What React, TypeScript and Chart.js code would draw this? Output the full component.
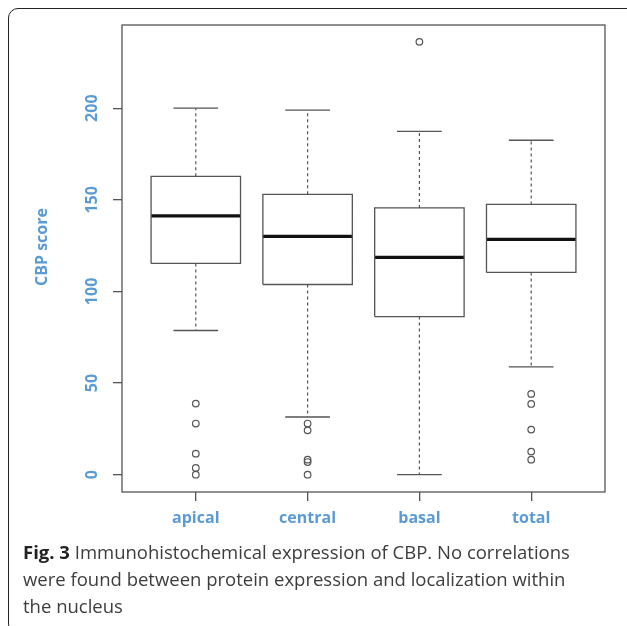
import React, { useEffect, useRef } from "react";
import { Chart, registerables } from "chart.js";

Chart.register(...registerables);

const categories = ["apical", "central", "basal", "total"];
const lowerWhiskers = [78.7, 31.5, 0, 58.8];
const q1s = [115.3, 103.8, 86.3, 110.4];
const medians = [141.2, 130.0, 118.6, 128.4];
const q3s = [162.8, 153.0, 145.6, 147.5];
const upperWhiskers = [200, 198.9, 187.4, 182.5];
const outliersApical = [38.8, 27.9, 11.5, 3.7, 0];
const outliersCentral = [27.9, 24.2, 8.2, 6.9, 0];
const outliersBasal = [236.2];
const outliersTotal = [44.1, 38.6, 24.6, 12.6, 8.2];
const yTicks = [0, 50, 100, 150, 200];
const yTitle = "CBP score";

const BLUE = "#5B9BD5";
const LINE = "#555555";
const BOX_HALF = 0.4;
const CAP_HALF = 0.2;

type P = { x: number; y: number | null };

function buildBoxes(): P[] {
  const pts: P[] = [];
  categories.forEach((_, i) => {
    const x = i + 1;
    pts.push(
      { x: x - BOX_HALF, y: q1s[i] },
      { x: x + BOX_HALF, y: q1s[i] },
      { x: x + BOX_HALF, y: q3s[i] },
      { x: x - BOX_HALF, y: q3s[i] },
      { x: x - BOX_HALF, y: q1s[i] },
      { x: x, y: null }
    );
  });
  return pts;
}

function buildMedians(): P[] {
  const pts: P[] = [];
  categories.forEach((_, i) => {
    const x = i + 1;
    pts.push({ x: x - BOX_HALF, y: medians[i] }, { x: x + BOX_HALF, y: medians[i] }, { x, y: null });
  });
  return pts;
}

function buildWhiskers(): P[] {
  const pts: P[] = [];
  categories.forEach((_, i) => {
    const x = i + 1;
    pts.push({ x, y: q3s[i] }, { x, y: upperWhiskers[i] }, { x, y: null });
    pts.push({ x, y: q1s[i] }, { x, y: lowerWhiskers[i] }, { x, y: null });
  });
  return pts;
}

function buildCaps(): P[] {
  const pts: P[] = [];
  categories.forEach((_, i) => {
    const x = i + 1;
    pts.push({ x: x - CAP_HALF, y: upperWhiskers[i] }, { x: x + CAP_HALF, y: upperWhiskers[i] }, { x, y: null });
    pts.push({ x: x - CAP_HALF, y: lowerWhiskers[i] }, { x: x + CAP_HALF, y: lowerWhiskers[i] }, { x, y: null });
  });
  return pts;
}

function buildOutliers(): P[] {
  const groups = [outliersApical, outliersCentral, outliersBasal, outliersTotal];
  const pts: P[] = [];
  groups.forEach((g, i) => g.forEach((v) => pts.push({ x: i + 1, y: v })));
  return pts;
}

const frameAndTitle = {
  id: "frameAndTitle",
  afterDraw(chart: any) {
    const { ctx, chartArea } = chart;
    ctx.save();
    ctx.strokeStyle = LINE;
    ctx.lineWidth = 1.3;
    ctx.strokeRect(chartArea.left, chartArea.top, chartArea.right - chartArea.left, chartArea.bottom - chartArea.top);
    ctx.translate(42, 247);
    ctx.rotate(-Math.PI / 2);
    ctx.fillStyle = BLUE;
    ctx.font = "bold 16px 'Open Sans'";
    ctx.textAlign = "center";
    ctx.textBaseline = "middle";
    ctx.fillText(yTitle, 0, 0);
    ctx.restore();
  },
};

const blueFont = { family: "'Open Sans', sans-serif", size: 16, weight: "bold" as const };

export default function App() {
  const ref = useRef<HTMLCanvasElement | null>(null);

  useEffect(() => {
    if (!ref.current) return;
    const lineBase = {
      type: "line" as const,
      pointRadius: 0,
      fill: false,
      tension: 0,
      spanGaps: false,
    };
    const chart = new Chart(ref.current, {
      type: "line",
      data: {
        datasets: [
          { ...lineBase, data: buildWhiskers(), borderColor: LINE, borderWidth: 1.2, borderDash: [3, 3] },
          { ...lineBase, data: buildCaps(), borderColor: LINE, borderWidth: 1.3 },
          { ...lineBase, data: buildBoxes(), borderColor: LINE, borderWidth: 1.3, borderJoinStyle: "miter" },
          { ...lineBase, data: buildMedians(), borderColor: "#111111", borderWidth: 3.2, borderCapStyle: "butt" },
          {
            type: "scatter" as const,
            data: buildOutliers(),
            pointRadius: 3.3,
            pointBorderWidth: 1.2,
            pointBorderColor: LINE,
            pointBackgroundColor: "rgba(255,255,255,0)",
            showLine: false,
          },
        ] as any,
      },
      options: {
        responsive: false,
        animation: false,
        events: [],
        layout: { padding: { top: 25, right: 22, left: 0, bottom: 8 } },
        plugins: { legend: { display: false }, tooltip: { enabled: false }, title: { display: false } },
        scales: {
          x: {
            type: "linear",
            min: 0.34,
            max: 4.66,
            afterBuildTicks: (s: any) => {
              s.ticks = categories.map((_, i) => ({ value: i + 1 }));
            },
            afterFit: (s: any) => {
              s.height = 40;
            },
            ticks: {
              callback: (v: any) => categories[Math.round(Number(v)) - 1] ?? "",
              color: BLUE,
              font: blueFont,
              padding: 8,
              autoSkip: false,
              maxRotation: 0,
              minRotation: 0,
            },
            grid: { drawOnChartArea: false, drawTicks: true, tickLength: 9, color: LINE, lineWidth: 1.3 },
            border: { display: false },
          },
          y: {
            type: "linear",
            min: -9.44,
            max: 245.4,
            afterBuildTicks: (s: any) => {
              s.ticks = yTicks.map((v) => ({ value: v }));
            },
            afterFit: (s: any) => {
              s.width = 122;
            },
            ticks: {
              color: BLUE,
              font: blueFont,
              minRotation: 90,
              maxRotation: 90,
              crossAlign: "center",
              padding: 7,
              autoSkip: false,
            },
            grid: { drawOnChartArea: false, drawTicks: true, tickLength: 9, color: LINE, lineWidth: 1.3 },
            border: { display: false },
          },
        },
      } as any,
      plugins: [frameAndTitle],
    });
    return () => chart.destroy();
  }, []);

  return (
    <div>
      <div
        style={{
          position: "fixed",
          left: 8,
          top: 8,
          width: 630,
          height: 626,
          border: "1.5px solid #222",
          borderRadius: 10,
          boxSizing: "border-box",
        }}
      />
      <canvas
        ref={ref}
        width={627}
        height={540}
        style={{ position: "fixed", left: 0, top: 0, width: 627, height: 540 }}
      />
      <div
        style={{
          position: "fixed",
          left: 23,
          top: 538,
          fontFamily: "'Open Sans', sans-serif",
          fontSize: 18.5,
          lineHeight: "27px",
          color: "#3d3d3d",
          whiteSpace: "nowrap",
        }}
      >
        <b style={{ color: "#222" }}>Fig. 3</b> Immunohistochemical expression of CBP. No correlations
        <br />
        were found between protein expression and localization within
        <br />
        the nucleus
      </div>
    </div>
  );
}
